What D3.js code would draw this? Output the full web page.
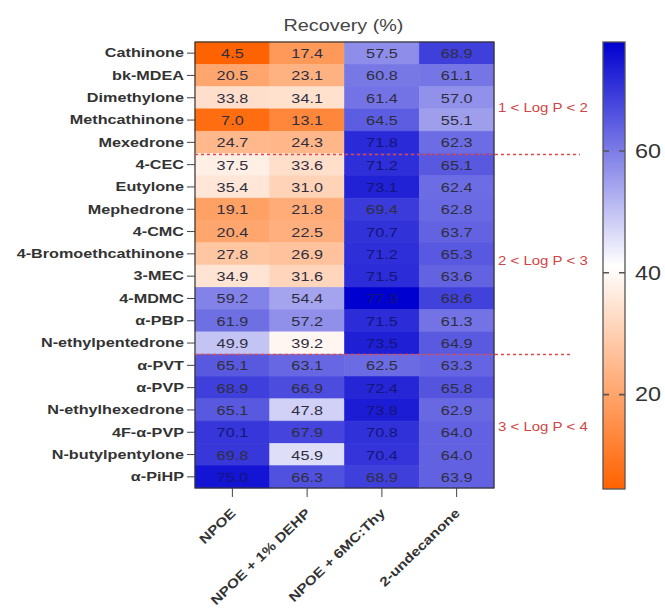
<!DOCTYPE html>
<html lang="en">
<head>
<meta charset="UTF-8">
<title>Recovery heatmap</title>
<script src="https://d3js.org/d3.v7.min.js"></script>
<style>
  body { margin: 0; background: #fff; }
  svg { font-family: "Liberation Sans", Arial, sans-serif; }
</style>
</head>
<body>
<svg id="chart" width="665" height="610"></svg>
<script>
// compounds (rows) and solvents (columns)
const compounds = ["Cathinone", "bk-MDEA", "Dimethylone", "Methcathinone", "Mexedrone",
  "4-CEC", "Eutylone", "Mephedrone", "4-CMC", "4-Bromoethcathinone", "3-MEC", "4-MDMC",
  "α-PBP", "N-ethylpentedrone", "α-PVT", "α-PVP", "N-ethylhexedrone", "4F-α-PVP",
  "N-butylpentylone", "α-PiHP"];
const solvents = ["NPOE", "NPOE + 1% DEHP", "NPOE + 6MC:Thy", "2-undecanone"];

// recovery (%) per solvent, same order as compounds
const npoe = [4.5, 20.5, 33.8, 7.0, 24.7, 37.5, 35.4, 19.1, 20.4, 27.8, 34.9, 59.2, 61.9, 49.9, 65.1, 68.9, 65.1, 70.1, 69.8, 75.0];
const npoeDehp = [17.4, 23.1, 34.1, 13.1, 24.3, 33.6, 31.0, 21.8, 22.5, 26.9, 31.6, 54.4, 57.2, 39.2, 63.1, 66.9, 47.8, 67.9, 45.9, 66.3];
const npoe6mc = [57.5, 60.8, 61.4, 64.5, 71.8, 71.2, 73.1, 69.4, 70.7, 71.2, 71.5, 77.9, 71.5, 73.5, 62.5, 72.4, 73.8, 70.8, 70.4, 68.9];
const undecanone = [68.9, 61.1, 57.0, 55.1, 62.3, 65.1, 62.4, 62.8, 63.7, 65.3, 63.6, 68.6, 61.3, 64.9, 63.3, 65.8, 62.9, 64.0, 64.0, 63.9];

const colorTicks = [20, 40, 60];
const logPGroups = ["1 < Log P < 2", "2 < Log P < 3", "3 < Log P < 4"];
const groupRows = [[0, 4], [5, 13], [14, 19]];   // first/last row of each group

const series = [npoe, npoeDehp, npoe6mc, undecanone];
const cells = [];
series.forEach((vals, j) => vals.forEach((v, i) => {
  cells.push({ row: compounds[i], col: solvents[j], value: v });
}));

const SX = 1.2;  // the figure's text is a bit wider than plain Arial

const svg = d3.select("#chart");

const x = d3.scaleBand().domain(solvents).range([195, 494]);
const y = d3.scaleBand().domain(compounds).range([42, 488]);

const vmin = d3.min(cells, d => d.value);
const vmax = d3.max(cells, d => d.value);
const color = d3.scaleLinear()
  .domain([vmin, (vmin + vmax) / 2, vmax])
  .range(["#ff6200", "#ffffff", "#0000d0"]);

// title
const titleX = (x.range()[0] + x.range()[1]) / 2;
svg.append("text")
  .attr("transform", `translate(${titleX - 1},31) scale(${SX},1)`)
  .attr("text-anchor", "middle")
  .attr("font-size", "16.5px")
  .attr("fill", "#444")
  .text("Recovery (%)");

// cells
svg.append("g").selectAll("rect")
  .data(cells)
  .enter().append("rect")
  .attr("x", d => x(d.col))
  .attr("y", d => y(d.row))
  .attr("width", x.bandwidth())
  .attr("height", y.bandwidth())
  .attr("fill", d => color(d.value))
  .attr("stroke", d => color(d.value))
  .attr("stroke-width", 0.6);

svg.append("g").selectAll("text")
  .data(cells)
  .enter().append("text")
  .attr("transform", d => `translate(${x(d.col) + x.bandwidth() / 2},${y(d.row) + y.bandwidth() / 2 + 5}) scale(${SX},1)`)
  .attr("text-anchor", "middle")
  .attr("font-size", "13.5px")
  .attr("fill", d => d.value > 70 ? "#14147a" : "#2e2e3e")
  .text(d => d.value.toFixed(1));

// frame
svg.append("rect")
  .attr("x", x.range()[0]).attr("y", y.range()[0])
  .attr("width", x.range()[1] - x.range()[0])
  .attr("height", y.range()[1] - y.range()[0])
  .attr("fill", "none").attr("stroke", "#333").attr("stroke-width", 1.2);

// row axis
const yAxis = svg.append("g")
  .attr("transform", `translate(${x.range()[0]},0)`)
  .call(d3.axisLeft(y).tickSize(8).tickPadding(3));
yAxis.select(".domain").remove();
yAxis.selectAll("line").attr("stroke", "#444");
yAxis.selectAll("text")
  .attr("x", -11 / SX)
  .attr("transform", `scale(${SX},1)`)
  .attr("font-size", "13.5px")
  .attr("font-weight", "bold")
  .attr("fill", "#333");

// column axis
const xAxis = svg.append("g")
  .attr("transform", `translate(0,${y.range()[1]})`)
  .call(d3.axisBottom(x).tickSize(9));
xAxis.select(".domain").remove();
xAxis.selectAll("line").attr("stroke", "#444");
xAxis.selectAll("text")
  .attr("x", 0).attr("y", 0).attr("dy", 0)
  .attr("font-size", "13px")
  .attr("font-weight", "bold")
  .attr("fill", "#333")
  .attr("text-anchor", "end")
  .attr("transform", `translate(4,26) rotate(-44) scale(${SX},1)`);

// Log P group separators and labels
const sepEnds = [580, 572];
groupRows.slice(1).forEach((g, k) => {
  const yy = Math.round(y(compounds[g[0]])) + 0.5;
  svg.append("line")
    .attr("x1", x.range()[0]).attr("x2", sepEnds[k])
    .attr("y1", yy).attr("y2", yy)
    .attr("stroke", "#dc4a4a").attr("stroke-width", 1.3)
    .attr("stroke-dasharray", "3,3");
});
const labelY = [112, 265, 431];
logPGroups.forEach((t, k) => {
  svg.append("text")
    .attr("transform", `translate(498,${labelY[k]}) scale(${SX},1)`)
    .attr("font-size", "12.5px")
    .attr("fill", "#d04545")
    .text(t);
});

// colour bar
const cb = { x: 603, w: 22, top: 42, bottom: 489 };
const cbScale = d3.scaleLinear().domain([vmin, vmax]).range([cb.bottom, cb.top]);
const grad = svg.append("defs").append("linearGradient")
  .attr("id", "cbGrad").attr("x1", 0).attr("x2", 0).attr("y1", 1).attr("y2", 0);
d3.range(0, 1.0001, 0.1).forEach(t => {
  grad.append("stop")
    .attr("offset", t)
    .attr("stop-color", color(vmin + t * (vmax - vmin)));
});
svg.append("rect")
  .attr("x", cb.x).attr("y", cb.top)
  .attr("width", cb.w).attr("height", cb.bottom - cb.top)
  .attr("fill", "url(#cbGrad)")
  .attr("stroke", "#555").attr("stroke-width", 1.3);

colorTicks.forEach(t => {
  svg.append("line")
    .attr("x1", cb.x).attr("x2", cb.x + cb.w)
    .attr("y1", cbScale(t)).attr("y2", cbScale(t))
    .attr("stroke", "#555").attr("stroke-width", 1.6)
    .attr("stroke-dasharray", "6,10");
});
const cbAxis = svg.append("g")
  .attr("transform", `translate(${cb.x + cb.w},0)`)
  .call(d3.axisRight(cbScale).tickValues(colorTicks).tickSize(0));
cbAxis.select(".domain").remove();
cbAxis.selectAll("text")
  .attr("x", 10 / SX)
  .attr("transform", `scale(${SX},1)`)
  .attr("font-size", "19.5px")
  .attr("fill", "#333");
</script>
</body>
</html>
